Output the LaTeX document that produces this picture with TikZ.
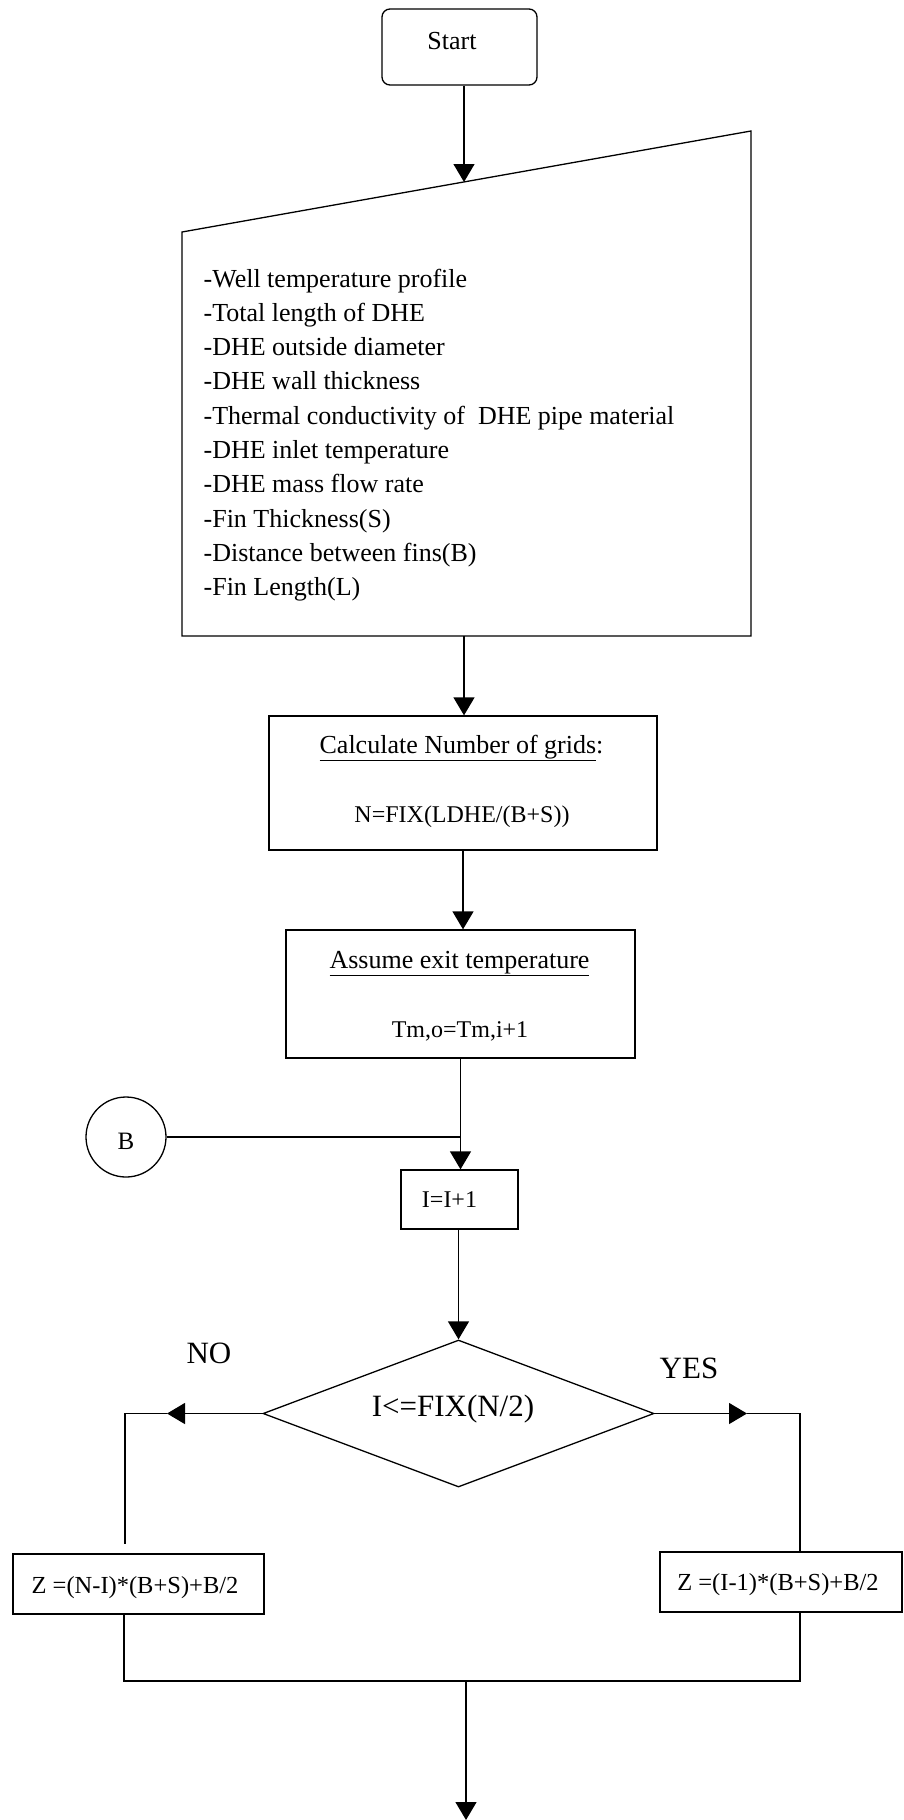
\documentclass[tikz,border=0pt]{standalone}
\usepackage{fontspec}
\setmainfont{Liberation Serif}
\usetikzlibrary{shapes.geometric,arrows.meta,calc}
\newcommand{\fs}[1]{\fontsize{#1}{#1}\selectfont}
\begin{document}
\begin{tikzpicture}[x=1pt,y=-1pt,line width=1.3pt,
  shapebox/.style={draw,rectangle,inner sep=0pt},
  txt/.style={inner sep=0pt,anchor=base,font=\fs{25}},
  listtxt/.style={inner sep=0pt,anchor=base west,font=\fs{26}},
  flow/.style={-{Triangle[width=21pt,length=18pt]}}]
\useasboundingbox (0,0) rectangle (904,1820);

% start terminal
\node[shapebox,rounded corners=8pt,minimum width=155pt,minimum height=76pt] (start) at (459.5,47) {};
\node[txt,font=\fs{26}] (starttxt) at (452,49) {Start};

% input block with slanted top
\coordinate (ptl) at (182,232);
\coordinate (ptr) at (751,131);
\coordinate (pbr) at (751,636);
\coordinate (pbl) at (182,636);
\coordinate (pin) at (464,182);
\coordinate (pout) at (464,636);
\draw (ptl) -- (ptr) -- (pbr) -- (pbl) -- cycle;
\foreach \t [count=\i] in {-Well temperature profile,-Total length of DHE,-DHE outside diameter,-DHE wall thickness,-Thermal conductivity of\ \ DHE pipe material,-DHE inlet temperature,-DHE mass flow rate,-Fin Thickness(S),-Distance between fins(B),-Fin Length(L)}
  \node[listtxt] (item\i) at (203,{287+34.3*(\i-1)}) {\t};

% number of grids
\node[shapebox,minimum width=388pt,minimum height=134pt] (calc) at (463,783) {};
\node[txt,font=\fs{26}] (calct1) at (461.5,753) {\underline{Calculate Number of grids}:};
\node[txt,font=\fs{24}] (calct2) at (462,822) {N=FIX(LDHE/(B+S))};

% exit temperature guess
\node[shapebox,minimum width=349pt,minimum height=128pt] (assume) at (460.5,994) {};
\node[txt,font=\fs{26}] (assumet1) at (459.5,968) {\underline{Assume exit temperature}};
\node[txt,font=\fs{24}] (assumet2) at (460,1037) {Tm,o=Tm,i+1};

% connector B
\node[draw,circle,inner sep=0pt,minimum size=80pt] (bcirc) at (126,1137) {};
\node[txt] (btxt) at (126,1149) {B};

% counter
\node[shapebox,minimum width=117pt,minimum height=59pt] (ibox) at (459.5,1199.5) {};
\node[txt,font=\fs{24}] (itxt) at (449.5,1207) {I=I+1};

% decision
\node[draw,diamond,inner sep=0pt,minimum width=391pt,minimum height=147pt] (dec) at (458.5,1413.5) {};
\node[txt,font=\fs{31}] (dectxt) at (453,1416) {I<=FIX(N/2)};
\node[txt,font=\fs{31}] (nolab) at (209,1363) {NO};
\node[txt,font=\fs{31}] (yeslab) at (689,1378) {YES};

% position formulas
\node[shapebox,minimum width=251pt,minimum height=60pt] (zl) at (138.5,1584) {};
\node[txt,font=\fs{24.5}] (zltxt) at (135,1593) {Z =(N-I)*(B+S)+B/2};
\node[shapebox,minimum width=242pt,minimum height=60pt] (zr) at (781,1582) {};
\node[txt,font=\fs{24.5}] (zrtxt) at (778,1590) {Z =(I-1)*(B+S)+B/2};

% connectors
\draw[flow] (start.south -| pin) -- (pin);
\draw[flow] (pout) -- (pout |- calc.north);
\draw[flow] (calc.south) -- (calc.south |- assume.north);
\draw[flow] (assume.south) -- (assume.south |- ibox.north);
\draw (bcirc.east) -- (bcirc.east -| assume.south);
\draw[flow] (dec.north |- ibox.south) -- (dec.north);

\coordinate (notip) at (167,1413.5);
\coordinate (nocorner) at (125,1413.5);
\draw[flow] (dec.west) -- (notip);
\draw (notip) -- (nocorner) -- ($(nocorner |- zl.north)+(0,-9)$);

\coordinate (yestip) at (747,1413.5);
\coordinate (yescorner) at (800,1413.5);
\draw[flow] (dec.east) -- (yestip);
\draw (yestip) -- (yescorner) -- (yescorner |- zr.north);

\coordinate (jl) at (124,1681);
\coordinate (jr) at (800,1681);
\coordinate (jm) at (466,1681);
\coordinate (endpt) at (466,1820);
\draw (zl.south -| jl) -- (jl) -- (jr) -- (zr.south -| jr);
\draw[flow] (jm) -- (endpt);
\end{tikzpicture}
\end{document}
